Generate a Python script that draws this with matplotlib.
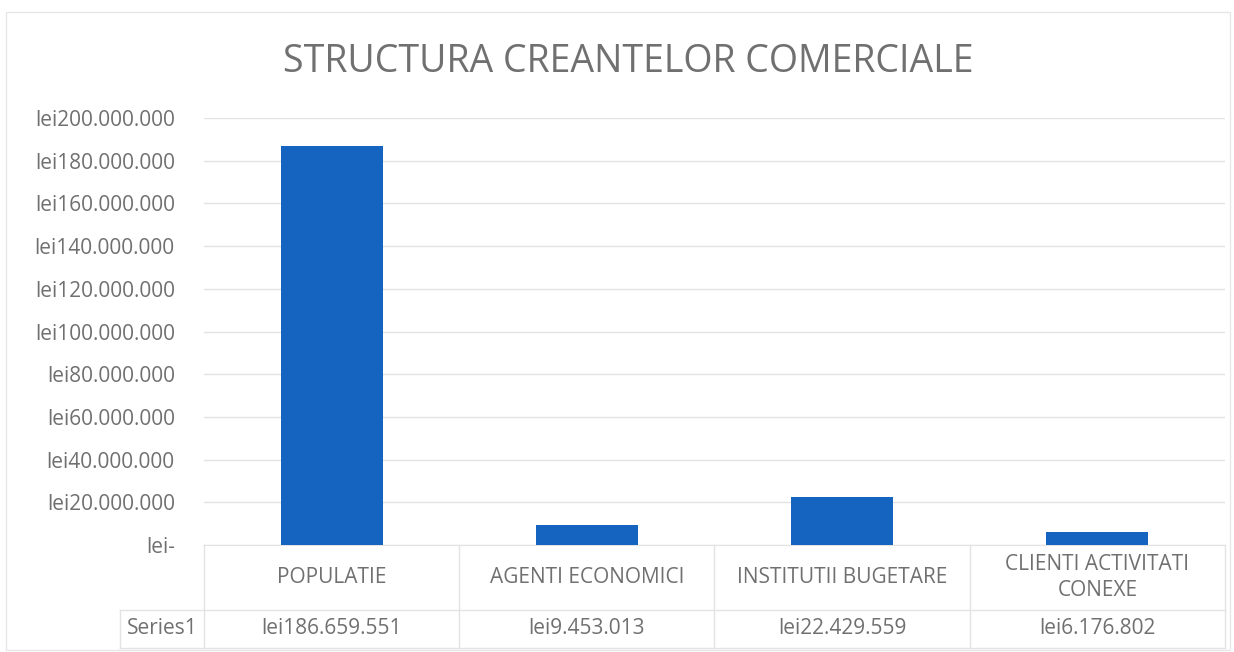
import matplotlib
matplotlib.use("Agg")
from matplotlib import pyplot as plt
from matplotlib.patches import Rectangle

categorii = ["POPULATIE", "AGENTI ECONOMICI", "INSTITUTII BUGETARE", "CLIENTI ACTIVITATI\nCONEXE"]
valori = [186659551, 9453013, 22429559, 6176802]
serie = "Series1"
titlu = "STRUCTURA CREANTELOR COMERCIALE"

GRI = "#707070"
LINIE = "#e3e3e3"
ALBASTRU = "#1565c0"

plt.rcParams['font.family'] = ['Open Sans', 'DejaVu Sans']

W, H = 1234, 652
fig = plt.figure(figsize=(W / 100, H / 100), dpi=100)

# zona graficului (pixeli din imagine)
x0, x1 = 204, 1225
y_sus, y_jos = 118, 545
ax = fig.add_axes([x0 / W, 1 - y_jos / H, (x1 - x0) / W, (y_jos - y_sus) / H])

def lei(v, pos=None):
    if v == 0:
        return "lei-"
    return "lei" + f"{v:,.0f}".replace(",", ".")

poz = list(range(len(categorii)))
ax.bar(poz, valori, width=0.4, color=ALBASTRU, zorder=3)
ax.set_xlim(-0.5, len(categorii) - 0.5)
ax.set_ylim(0, 200000000)
ax.set_yticks(range(0, 200000001, 20000000))
ax.yaxis.set_major_formatter(plt.FuncFormatter(lei))
ax.tick_params(axis='y', length=0, pad=21, labelsize=15, labelcolor=GRI)
ax.set_xticks([])
ax.grid(axis='y', color=LINIE, linewidth=1, zorder=0)
for s in ["top", "right", "left"]:
    ax.spines[s].set_visible(False)
ax.spines["bottom"].set_color(LINIE)

fig.text(628 / W, 1 - 62 / H, titlu, ha='center', va='center',
         fontsize=27, color=GRI)

# tabelul de date de sub grafic
def fx(px):
    return px / W

def fy(py):
    return 1 - py / H

y_rand, y_fund, x_st = 610, 648, 120
lat = (x1 - x0) / len(categorii)
kw = dict(color=LINIE, linewidth=1, transform=fig.transFigure)
fig.add_artist(plt.Line2D([fx(x_st), fx(x1)], [fy(y_rand), fy(y_rand)], **kw))
fig.add_artist(plt.Line2D([fx(x_st), fx(x1)], [fy(y_fund), fy(y_fund)], **kw))
fig.add_artist(plt.Line2D([fx(x_st), fx(x_st)], [fy(y_rand), fy(y_fund)], **kw))
for i in range(len(categorii) + 1):
    xp = x0 + i * lat
    fig.add_artist(plt.Line2D([fx(xp), fx(xp)], [fy(y_jos), fy(y_fund)], **kw))

for i, (c, v) in enumerate(zip(categorii, valori)):
    xc = x0 + (i + 0.5) * lat
    fig.text(fx(xc), fy((y_jos + y_rand) / 2), c, ha='center', va='center',
             fontsize=15, color=GRI, linespacing=1.3)
    fig.text(fx(xc), fy((y_rand + y_fund) / 2), lei(v), ha='center', va='center',
             fontsize=15, color=GRI)
fig.text(fx((x_st + x0) / 2), fy((y_rand + y_fund) / 2), serie, ha='center', va='center',
         fontsize=15, color=GRI)

# chenarul exterior
fig.add_artist(Rectangle((fx(6), fy(650)), fx(1230 - 6), (650 - 12) / H, fill=False,
                         edgecolor="#e6e6e6", linewidth=1, transform=fig.transFigure))

fig.savefig("out.png", dpi=100, facecolor="white")
